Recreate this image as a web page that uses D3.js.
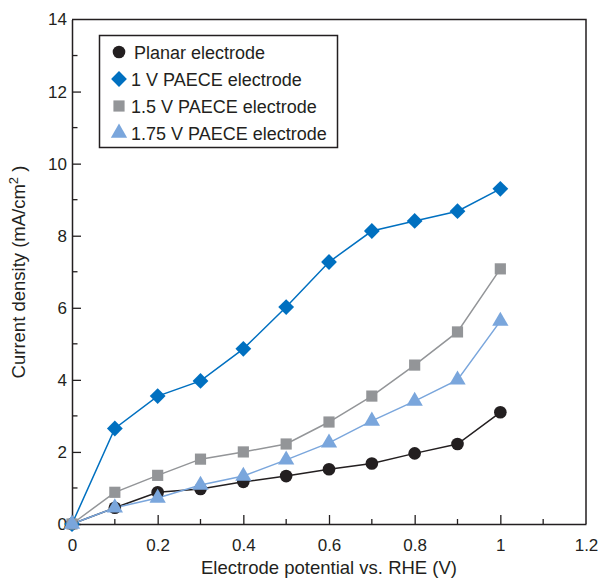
<!DOCTYPE html>
<html><head><meta charset="utf-8">
<script src="https://cdn.jsdelivr.net/npm/d3@7"></script>
<style>body{margin:0;background:#fff}svg{display:block}text{font-family:"Liberation Sans",Arial,sans-serif;fill:#231f20}</style>
</head><body>
<svg id="c" width="599" height="578"></svg>
<script>
const potentials = [0, 0.1, 0.2, 0.3, 0.4, 0.5, 0.6, 0.7, 0.8, 0.9, 1.0];
const planar   = [0, 0.45, 0.88, 0.97, 1.17, 1.33, 1.52, 1.68, 1.96, 2.22, 3.1];
const paece1   = [0, 2.65, 3.55, 3.97, 4.86, 6.02, 7.27, 8.13, 8.41, 8.68, 9.3];
const paece15  = [0, 0.88, 1.35, 1.8, 2.0, 2.22, 2.83, 3.55, 4.41, 5.33, 7.08];
const paece175 = [0, 0.45, 0.72, 1.08, 1.33, 1.78, 2.25, 2.86, 3.41, 4.0, 5.63];
const seriesNames = ["Planar electrode", "1 V PAECE electrode", "1.5 V PAECE electrode", "1.75 V PAECE electrode"];
const xTicks = [0, 0.2, 0.4, 0.6, 0.8, 1, 1.2];
const yTicks = [0, 2, 4, 6, 8, 10, 12, 14];

const series = [
  {name: seriesNames[0], values: planar,   color: "#231f20", sym: d3.symbolCircle,   size: 125, rot: 0},
  {name: seriesNames[1], values: paece1,   color: "#0070c0", sym: d3.symbolSquare,   size: 125, rot: 45},
  {name: seriesNames[2], values: paece15,  color: "#939598", sym: d3.symbolSquare,   size: 125, rot: 0},
  {name: seriesNames[3], values: paece175, color: "#7aa6dc", sym: d3.symbolTriangle, size: 115, rot: 0}
];

const svg = d3.select("#c");
const L = 72, R = 586, T = 19.5, B = 524;
const x = d3.scaleLinear().domain([0, 1.2]).range([L, R]);
const y = d3.scaleLinear().domain([0, 14]).range([B, T]);

svg.append("path").attr("d", `M${L},${T}H${R}V${B}`).attr("fill","none").attr("stroke","#231f20").attr("stroke-width",1.5);

const xMinor = d3.range(0.1, 1.2, 0.2);
const yMinor = d3.range(1, 14, 2);
svg.append("g").selectAll("line").data(xMinor).join("line")
  .attr("x1", d=>x(d)).attr("x2", d=>x(d)).attr("y1", B).attr("y2", B-5)
  .attr("stroke","#231f20").attr("stroke-width",1.3);
svg.append("g").selectAll("line").data(yMinor).join("line")
  .attr("y1", d=>y(d)).attr("y2", d=>y(d)).attr("x1", L).attr("x2", L+5.5)
  .attr("stroke","#231f20").attr("stroke-width",1.3);

const xAxis = svg.append("g").attr("transform",`translate(0,${B})`)
  .call(d3.axisBottom(x).tickValues(xTicks).tickSizeInner(-9).tickSizeOuter(0).tickPadding(15).tickFormat(d3.format("~g")));
const yAxis = svg.append("g").attr("transform",`translate(${L},0)`)
  .call(d3.axisLeft(y).tickValues(yTicks).tickSizeInner(-9).tickSizeOuter(0).tickPadding(5));
[xAxis, yAxis].forEach(g => {
  g.select(".domain").attr("stroke","#231f20").attr("stroke-width",1.5);
  g.selectAll(".tick line").attr("stroke","#231f20").attr("stroke-width",1.3);
  g.selectAll("text").style("font-size","17px").attr("fill","#231f20");
});
xAxis.selectAll(".tick").filter(d => d === 1.2).select("line").remove();
yAxis.selectAll(".tick").filter(d => d === 14).select("line").remove();

svg.append("text").attr("x", 329).attr("y", 574).attr("text-anchor","middle")
  .style("font-size","18.5px").text("Electrode potential vs. RHE (V)");
const yl = svg.append("text").attr("transform","translate(25,272) rotate(-90)").attr("text-anchor","middle").style("font-size","18.5px");
yl.append("tspan").text("Current density (mA/cm");
yl.append("tspan").attr("dy",-7).style("font-size","13px").text("2");
yl.append("tspan").attr("dy",7).text(" )");

const line = d3.line().x((d,i)=>x(potentials[i])).y(d=>y(d));
series.forEach(s => {
  svg.append("path").datum(s.values).attr("d", line).attr("fill","none")
    .attr("stroke", s.color).attr("stroke-width", 1.5);
});
series.forEach(s => {
  svg.append("g").selectAll("path").data(s.values).join("path")
    .attr("transform", (d,i)=>`translate(${x(potentials[i])},${y(d)}) rotate(${s.rot})`)
    .attr("d", d3.symbol().type(s.sym).size(s.size)).attr("fill", s.color);
});

const lg = svg.append("g");
lg.append("rect").attr("x",99.5).attr("y",35.5).attr("width",238).attr("height",112)
  .attr("fill","#fff").attr("stroke","#231f20").attr("stroke-width",1.5);
series.forEach((s,i) => {
  const cy = 52 + i*27;
  lg.append("path").attr("transform",`translate(119,${cy}) rotate(${s.rot})`)
    .attr("d", d3.symbol().type(s.sym).size(s.size)).attr("fill", s.color);
  lg.append("text").attr("x", i===0 ? 134 : 131).attr("y", cy+6.5).style("font-size","18px").text(s.name);
});
</script>
</body></html>
